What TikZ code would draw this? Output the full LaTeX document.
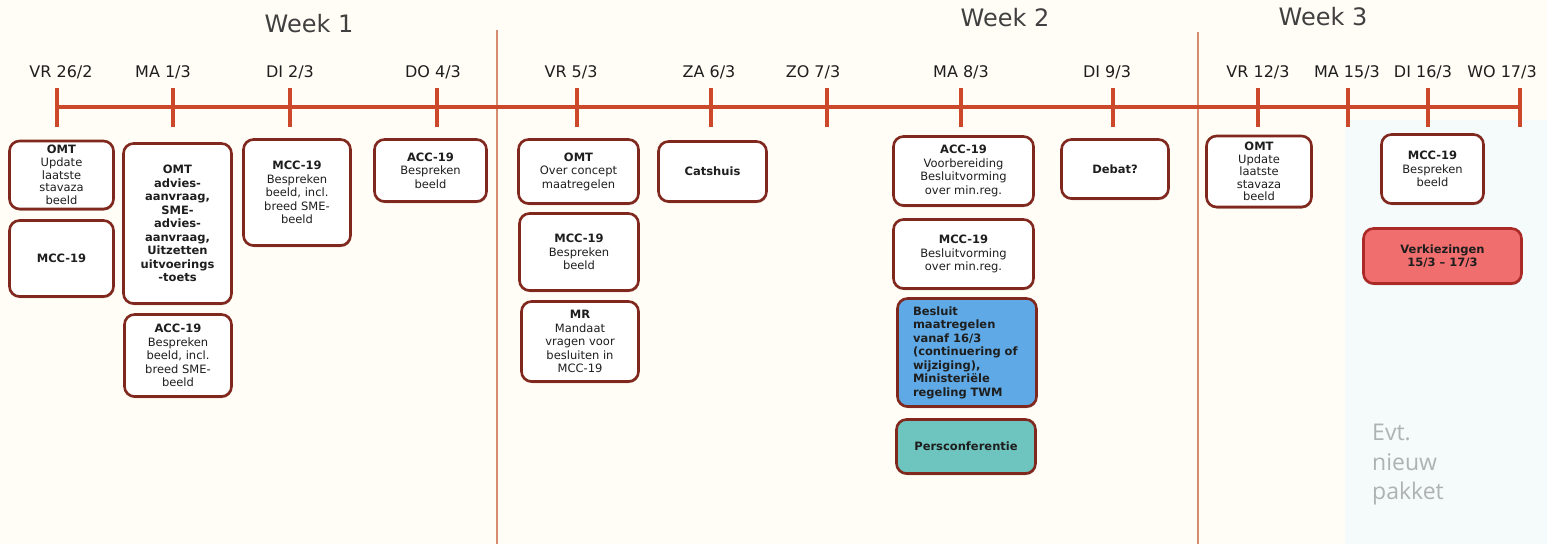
\documentclass[tikz,border=0pt]{standalone}
\usepackage{fontspec}
\setmainfont{DejaVu Sans}
\newfontfamily\dunfont{Open Sans}
\usepackage{tikz}
\usetikzlibrary{shadows}
\definecolor{achtergrond}{RGB}{255,253,246}
\definecolor{zijvlak}{RGB}{244,251,250}
\definecolor{tijdrood}{RGB}{204,72,42}
\definecolor{weekrand}{RGB}{214,140,110}
\definecolor{blokrand}{RGB}{128,40,30}
\definecolor{tekst}{RGB}{30,30,30}
\definecolor{blauw}{RGB}{95,170,230}
\definecolor{groen}{RGB}{110,196,190}
\definecolor{rood}{RGB}{240,110,110}
\definecolor{roodrand}{RGB}{170,42,40}
\definecolor{grijs}{RGB}{175,178,178}
\def\breedte{1547}
\def\hoogte{544}

\begin{document}
\begin{tikzpicture}[x=1pt, y=-1pt,
	blok/.style={draw=blokrand, line width=2.6pt, rounded corners=10pt, fill=white,
		align=center, text=tekst, inner xsep=1pt, inner ysep=0pt, font=\fontsize{11.5}{13.5}\selectfont,
		drop shadow={shadow xshift=0.6pt, shadow yshift=-1.5pt, fill=blokrand!70!black, opacity=.5}},
	krap/.style={font=\fontsize{11.5}{12.6}\selectfont},
	dag/.style={text=tekst, font=\fontsize{16}{18}\selectfont},
	week/.style={text=tekst!85, font=\fontsize{24}{28}\selectfont}]
	\useasboundingbox (0,0) rectangle (\breedte,\hoogte);
	\fill[achtergrond] (0,0) rectangle (\breedte,\hoogte);
	\fill[zijvlak] (1345,120) rectangle (\breedte,\hoogte);
	% weken
	\draw[weekrand, line width=1.2pt] (497,30) -- (497,\hoogte);
	\draw[weekrand, line width=1.2pt] (1198,32) -- (1198,\hoogte);
	\node[week] (week1) at (309,24) {Week 1};
	\node[week] (week2) at (1005,18) {Week 2};
	\node[week] (week3) at (1323,17) {Week 3};
	% tijdlijn
	\draw[tijdrood, line width=4pt] (57,107) -- (1520,107);
	\foreach \x/\lx/\d [count=\i] in {57/61/{VR 26/2}, 173/163/{MA 1/3}, 290/290/{DI 2/3}, 437/433/{DO 4/3},
		577/571/{VR 5/3}, 711/709/{ZA 6/3}, 827/813/{ZO 7/3}, 961/961/{MA 8/3}, 1113/1107/{DI 9/3},
		1258/1258/{VR 12/3}, 1348/1347/{MA 15/3}, 1428/1423/{DI 16/3}, 1520/1502/{WO 17/3}}{
		\draw[tijdrood, line width=4pt] (\x,88) -- (\x,127);
		\node[dag] (dag\i) at (\lx,72) {\d};
	}
	% week 1
	\node[blok, krap, minimum width=104, minimum height=68] (omtA) at (61.5,175) {\textbf{OMT}\\Update\\laatste\\stavaza\\beeld};
	\node[blok, minimum width=104, minimum height=76] (mccA) at (61.5,258.5) {\textbf{MCC-19}};
	\node[blok, minimum width=108, minimum height=160] (omtB) at (177.5,223.5) {\textbf{OMT}\\\textbf{advies-}\\\textbf{aanvraag,}\\\textbf{SME-}\\\textbf{advies-}\\\textbf{aanvraag,}\\\textbf{Uitzetten}\\\textbf{uitvoerings}\\\textbf{-toets}};
	\node[blok, minimum width=107, minimum height=82] (accA) at (178,355.5) {\textbf{ACC-19}\\Bespreken\\beeld, incl.\\breed SME-\\beeld};
	\node[blok, minimum width=107, minimum height=106] (mccB) at (297,192.5) {\textbf{MCC-19}\\Bespreken\\beeld, incl.\\breed SME-\\beeld};
	\node[blok, minimum width=112, minimum height=62] (accB) at (430.5,170.5) {\textbf{ACC-19}\\Bespreken\\beeld};
	% week 2
	\node[blok, minimum width=120, minimum height=64] (omtC) at (578.5,171.5) {\textbf{OMT}\\Over concept\\maatregelen};
	\node[blok, minimum width=119, minimum height=77] (mccC) at (579,252) {\textbf{MCC-19}\\Bespreken\\beeld};
	\node[blok, minimum width=117, minimum height=80] (mr) at (580,341.5) {\textbf{MR}\\Mandaat\\vragen voor\\besluiten in\\MCC-19};
	\node[blok, minimum width=108, minimum height=60] (cats) at (712.5,171.5) {\textbf{Catshuis}};
	\node[blok, minimum width=140, minimum height=69] (accC) at (963.5,171) {\textbf{ACC-19}\\Voorbereiding\\Besluitvorming\\over min.reg.};
	\node[blok, minimum width=140, minimum height=69] (mccD) at (963.5,254) {\textbf{MCC-19}\\Besluitvorming\\over min.reg.};
	\node[blok, fill=blauw, align=left, text width=108, minimum width=139, minimum height=108] (besluit) at (967,352.5) {\textbf{Besluit}\\\textbf{maatregelen}\\\textbf{vanaf 16/3}\\\textbf{(continuering of}\\\textbf{wijziging),}\\\textbf{Ministeriële}\\\textbf{regeling TWM}};
	\node[blok, fill=groen, minimum width=139, minimum height=54] (pers) at (966,446.5) {\textbf{Persconferentie}};
	\node[blok, minimum width=107, minimum height=59] (debat) at (1115,169) {\textbf{Debat?}};
	% week 3
	\node[blok, krap, minimum width=105, minimum height=71] (omtD) at (1259,171.5) {\textbf{OMT}\\Update\\laatste\\stavaza\\beeld};
	\node[blok, minimum width=102, minimum height=69] (mccE) at (1432.5,169) {\textbf{MCC-19}\\Bespreken\\beeld};
	\node[blok, draw=roodrand, fill=rood, minimum width=158, minimum height=55] (verk) at (1442.5,256) {\textbf{Verkiezingen}\\\textbf{15/3 – 17/3}};
	\node[anchor=north west, inner sep=0pt, align=left, text=grijs, font=\dunfont\fontsize{23}{29.5}\selectfont] (evt) at (1372,424) {Evt.\\nieuw\\pakket};
\end{tikzpicture}
\end{document}
